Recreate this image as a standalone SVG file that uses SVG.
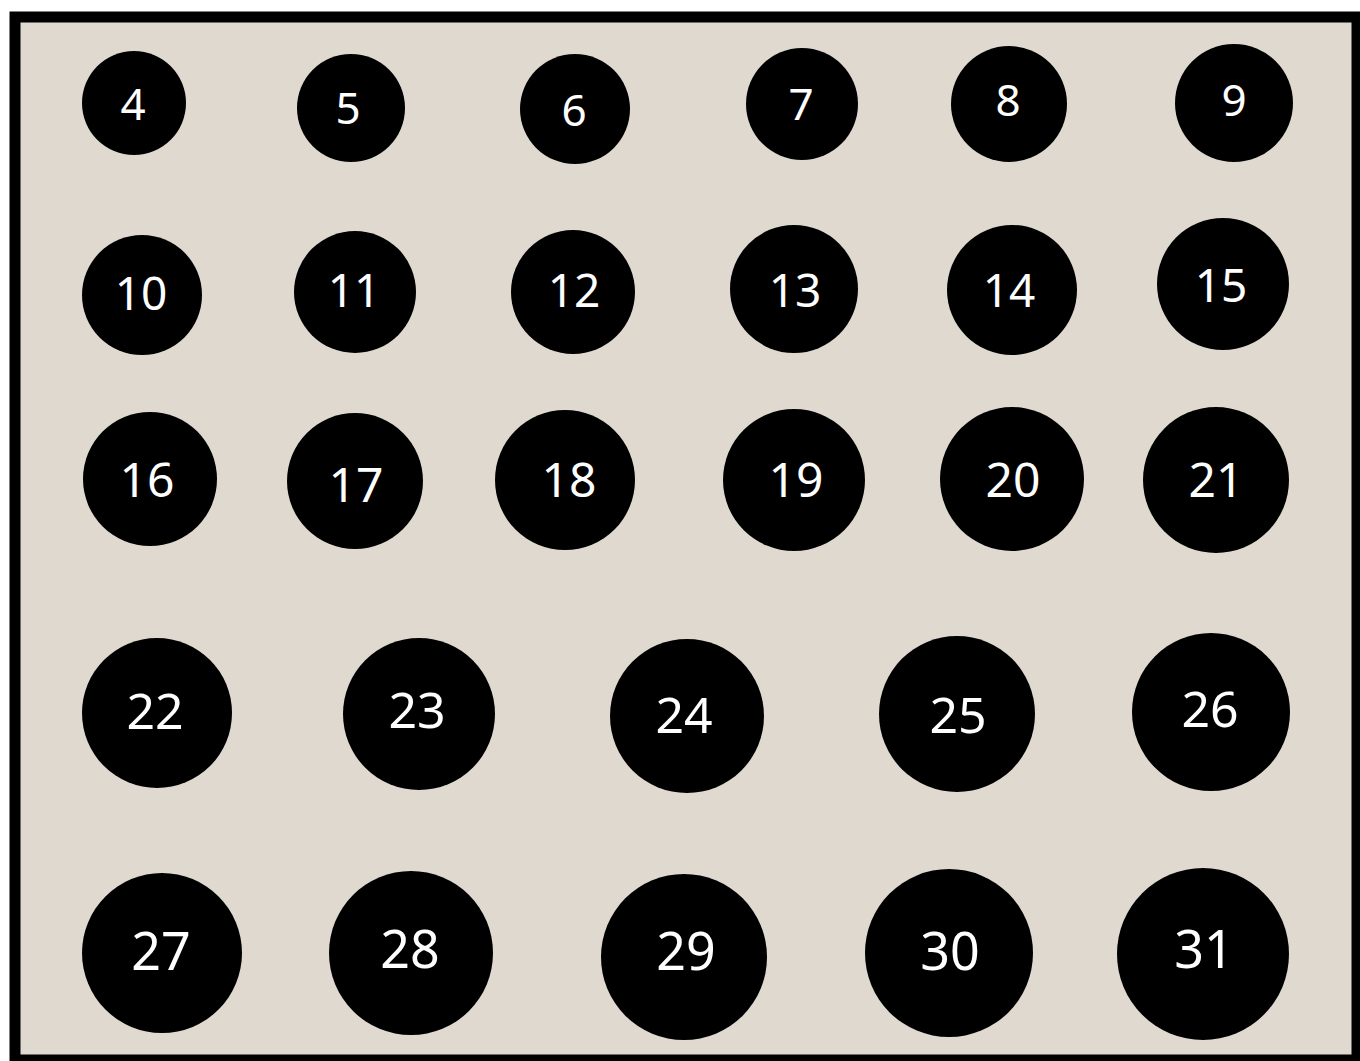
<svg xmlns="http://www.w3.org/2000/svg" width="1360" height="1061" viewBox="0 0 1360 1061">
<style>
.n circle{fill:#000}
.n text{fill:#fff;font-family:"Noto Sans","Open Sans",sans-serif;text-anchor:middle;dominant-baseline:central}
.r1 text{font-size:44px}.r2 text{font-size:46px}.r3 text{font-size:48px}.r4 text{font-size:50px}.r5 text{font-size:52px}
</style>
<rect x="15" y="17" width="1342" height="1043" fill="#e0d9d0" stroke="#000" stroke-width="11"/>
<g class="r1">
<g id="n4" class="n"><circle cx="134" cy="103" r="52"/><text x="133" y="103">4</text></g>
<g id="n5" class="n"><circle cx="351" cy="108" r="54"/><text x="348" y="107">5</text></g>
<g id="n6" class="n"><circle cx="575" cy="109" r="55"/><text x="574" y="109">6</text></g>
<g id="n7" class="n"><circle cx="802" cy="104" r="56"/><text x="801" y="103">7</text></g>
<g id="n8" class="n"><circle cx="1009" cy="104" r="58"/><text x="1008" y="99">8</text></g>
<g id="n9" class="n"><circle cx="1234" cy="103" r="59"/><text x="1234" y="99">9</text></g>
</g>
<g class="r2">
<g id="n10" class="n"><circle cx="142" cy="295" r="60"/><text x="141" y="292">10</text></g>
<g id="n11" class="n"><circle cx="355" cy="292" r="61"/><text x="354" y="289">11</text></g>
<g id="n12" class="n"><circle cx="573" cy="292" r="62"/><text x="574" y="289">12</text></g>
<g id="n13" class="n"><circle cx="794" cy="289" r="64"/><text x="795" y="289">13</text></g>
<g id="n14" class="n"><circle cx="1012" cy="290" r="65"/><text x="1009" y="289">14</text></g>
<g id="n15" class="n"><circle cx="1223" cy="284" r="66"/><text x="1221" y="284">15</text></g>
</g>
<g class="r3">
<g id="n16" class="n"><circle cx="150" cy="479" r="67"/><text x="147" y="478">16</text></g>
<g id="n17" class="n"><circle cx="355" cy="481" r="68"/><text x="356" y="483">17</text></g>
<g id="n18" class="n"><circle cx="565" cy="480" r="70"/><text x="569" y="478">18</text></g>
<g id="n19" class="n"><circle cx="794" cy="480" r="71"/><text x="796" y="478">19</text></g>
<g id="n20" class="n"><circle cx="1012" cy="479" r="72"/><text x="1013" y="478">20</text></g>
<g id="n21" class="n"><circle cx="1216" cy="480" r="73"/><text x="1216" y="478">21</text></g>
</g>
<g class="r4">
<g id="n22" class="n"><circle cx="157" cy="713" r="75"/><text x="155" y="710">22</text></g>
<g id="n23" class="n"><circle cx="419" cy="714" r="76"/><text x="417" y="709">23</text></g>
<g id="n24" class="n"><circle cx="687" cy="716" r="77"/><text x="684" y="714">24</text></g>
<g id="n25" class="n"><circle cx="957" cy="714" r="78"/><text x="958" y="714">25</text></g>
<g id="n26" class="n"><circle cx="1211" cy="712" r="79"/><text x="1210" y="708">26</text></g>
</g>
<g class="r5">
<g id="n27" class="n"><circle cx="162" cy="953" r="80"/><text x="161" y="949">27</text></g>
<g id="n28" class="n"><circle cx="411" cy="953" r="82"/><text x="410" y="947">28</text></g>
<g id="n29" class="n"><circle cx="684" cy="957" r="83"/><text x="686" y="949">29</text></g>
<g id="n30" class="n"><circle cx="949" cy="953" r="84"/><text x="950" y="949">30</text></g>
<g id="n31" class="n"><circle cx="1203" cy="954" r="86"/><text x="1204" y="947">31</text></g>
</g>
<g id="connectors"/>
</svg>
